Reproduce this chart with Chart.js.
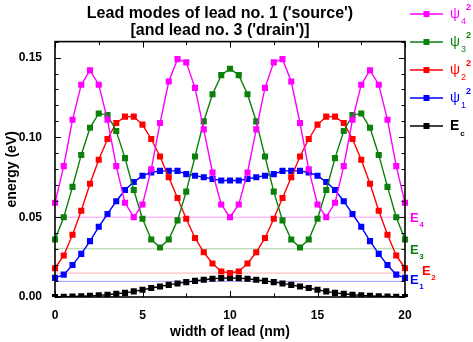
<!DOCTYPE html>
<html>
<head>
<meta charset="utf-8">
<script src="https://cdn.jsdelivr.net/npm/chart.js@4.4.1/dist/chart.umd.min.js"></script>
<style>
  html, body { margin: 0; padding: 0; background: #fff; }
  #wrap { width: 473px; height: 342px; }
</style>
</head>
<body>
<div id="wrap"><canvas id="leadModes"></canvas></div>
<script>
// ==================== DATA ====================
const widthNm = [0, 0.5, 1, 1.5, 2, 2.5, 3, 3.5, 4, 4.5, 5, 5.5, 6, 6.5, 7, 7.5, 8, 8.5, 9, 9.5, 10,
  10.5, 11, 11.5, 12, 12.5, 13, 13.5, 14, 14.5, 15, 15.5, 16, 16.5, 17, 17.5, 18, 18.5, 19, 19.5, 20];

const psi4 = [0.059, 0.082, 0.111, 0.133, 0.142, 0.133, 0.111, 0.082, 0.059, 0.050, 0.058, 0.080, 0.109, 0.135, 0.149, 0.147, 0.131, 0.105, 0.078, 0.058, 0.050,
  0.058, 0.078, 0.105, 0.131, 0.147, 0.149, 0.135, 0.109, 0.080, 0.058, 0.050, 0.059, 0.082, 0.111, 0.133, 0.142, 0.133, 0.111, 0.082, 0.059];
const psi3 = [0.036, 0.050, 0.069, 0.089, 0.106, 0.115, 0.114, 0.104, 0.087, 0.067, 0.049, 0.036, 0.031, 0.036, 0.048, 0.066, 0.088, 0.110, 0.127, 0.139, 0.143,
  0.139, 0.127, 0.110, 0.088, 0.066, 0.048, 0.036, 0.031, 0.036, 0.049, 0.067, 0.087, 0.104, 0.114, 0.115, 0.106, 0.089, 0.069, 0.050, 0.036];
const psi2 = [0.018, 0.026, 0.039, 0.054, 0.071, 0.086, 0.099, 0.109, 0.113, 0.113, 0.108, 0.099, 0.088, 0.075, 0.062, 0.049, 0.037, 0.028, 0.021, 0.016, 0.015,
  0.016, 0.021, 0.028, 0.037, 0.049, 0.062, 0.075, 0.088, 0.099, 0.108, 0.113, 0.113, 0.109, 0.099, 0.086, 0.071, 0.054, 0.039, 0.026, 0.018];
const psi1 = [0.012, 0.014, 0.020, 0.027, 0.035, 0.044, 0.052, 0.060, 0.067, 0.072, 0.076, 0.078, 0.079, 0.079, 0.079, 0.077, 0.076, 0.075, 0.074, 0.073, 0.073,
  0.073, 0.074, 0.075, 0.076, 0.077, 0.079, 0.079, 0.079, 0.078, 0.076, 0.072, 0.067, 0.060, 0.052, 0.044, 0.035, 0.027, 0.020, 0.014, 0.012];
const ec = [0.0000, 0.0002, 0.0003, 0.0005, 0.0007, 0.0010, 0.0014, 0.0020, 0.0026, 0.0035, 0.0045, 0.0056, 0.0066, 0.0076, 0.0085, 0.0093, 0.0101, 0.0108, 0.0114, 0.0118, 0.0120,
  0.0118, 0.0114, 0.0108, 0.0101, 0.0093, 0.0085, 0.0076, 0.0066, 0.0056, 0.0045, 0.0035, 0.0026, 0.0020, 0.0014, 0.0010, 0.0007, 0.0005, 0.0003, 0.0002, 0.0000];

// Mode energies E1..E4 (eV), drawn as thin reference lines
const levelSubs = ['1', '2', '3', '4'];
const levelEnergies = [0.0098, 0.015, 0.0302, 0.050];

// Legend text: main glyph, subscript, superscript
const legendMain = ['ψ', 'ψ', 'ψ', 'ψ', 'E'];
const legendSub = ['4', '3', '2', '1', 'c'];
const legendSup = ['2', '2', '2', '2', ''];

const xTickLabels = [0, 5, 10, 15, 20];
const yTickLabels = [0.00, 0.05, 0.10, 0.15];

// ==================== STYLES ====================
const seriesColors = ['#ff00ff', '#0b800b', '#ff0000', '#0000ff', '#000000'];
const levelColors = ['#0000ff', '#ff0000', '#0b800b', '#ff00ff'];
const levelLineColors = ['#9a9aff', '#ffb0b0', '#a3d0a3', '#ff9cff'];
const levelLabelDx = [5, 17, 5, 5];
const levelLabelDy = [-1, -1.5, 2, 1.5];

const FONT = '"Liberation Sans", Arial, sans-serif';
Chart.defaults.font.family = FONT;
Chart.defaults.color = '#000';

const toPoints = (ys) => ys.map((v, i) => ({ x: widthNm[i], y: v }));
const isOn = (v, list) => list.some(t => Math.abs(t - v) < 1e-6);

const seriesData = [psi4, psi3, psi2, psi1, ec];
const datasets = seriesData.map((ys, i) => ({
  data: toPoints(ys),
  borderColor: seriesColors[i],
  backgroundColor: seriesColors[i],
  borderWidth: 1.4,
  pointStyle: 'rect',
  pointRadius: 4.3,
  pointBorderWidth: 0,
  pointBackgroundColor: seriesColors[i],
  tension: 0,
  clip: { left: 6, top: 6, right: 6, bottom: 0 }
}));

// Energy level lines span the full width of the lead
levelEnergies.forEach((e, i) => {
  datasets.push({
    data: [{ x: widthNm[0], y: e }, { x: widthNm[widthNm.length - 1], y: e }],
    borderColor: levelLineColors[i],
    borderWidth: 1,
    pointRadius: 0
  });
});

// ==================== DECORATION PLUGINS ====================
const framePlugin = {
  id: 'frame',
  afterDraw(chart) {
    const { ctx, chartArea: a, scales: { x, y } } = chart;
    ctx.save();
    ctx.strokeStyle = '#000';
    ctx.lineWidth = 1;
    ctx.beginPath();
    x.ticks.forEach(t => {
      const px = Math.round(x.getPixelForValue(t.value)) + 0.5;
      const len = isOn(t.value, xTickLabels) ? 6 : 3.5;
      ctx.moveTo(px, a.bottom); ctx.lineTo(px, a.bottom - len);
      ctx.moveTo(px, a.top); ctx.lineTo(px, a.top + len);
    });
    y.ticks.forEach(t => {
      const py = Math.round(y.getPixelForValue(t.value)) + 0.5;
      const len = isOn(t.value, yTickLabels) ? 6 : 3.5;
      ctx.moveTo(a.left, py); ctx.lineTo(a.left + len, py);
      ctx.moveTo(a.right, py); ctx.lineTo(a.right - len, py);
    });
    ctx.stroke();
    ctx.lineWidth = 1.6;
    ctx.strokeRect(a.left, a.top, a.right - a.left, a.bottom - a.top);
    ctx.restore();
  }
};

const levelLabelPlugin = {
  id: 'levelLabels',
  afterDraw(chart) {
    const { ctx, chartArea: a, scales: { y } } = chart;
    ctx.save();
    ctx.textBaseline = 'middle';
    ctx.textAlign = 'left';
    levelEnergies.forEach((e, i) => {
      const px = a.right + levelLabelDx[i];
      const py = y.getPixelForValue(e) + levelLabelDy[i];
      ctx.fillStyle = levelColors[i];
      ctx.font = 'bold 13px ' + FONT;
      ctx.fillText('E', px, py);
      const w = ctx.measureText('E').width;
      ctx.font = 'bold 8px ' + FONT;
      ctx.fillText(levelSubs[i], px + w + 0.5, py + 6);
    });
    ctx.restore();
  }
};

const legendPlugin = {
  id: 'sideLegend',
  afterDraw(chart) {
    const { ctx } = chart;
    const top = 14, gap = 28, x0 = 410, x1 = 443, tx = 450;
    ctx.save();
    ctx.textBaseline = 'middle';
    ctx.textAlign = 'left';
    legendMain.forEach((m, i) => {
      const cy = top + gap * i;
      const c = seriesColors[i];
      ctx.strokeStyle = c;
      ctx.fillStyle = c;
      ctx.lineWidth = 1.4;
      ctx.beginPath();
      ctx.moveTo(x0, cy); ctx.lineTo(x1, cy);
      ctx.stroke();
      ctx.fillRect((x0 + x1) / 2 - 3, cy - 3, 6, 6);
      ctx.font = (m === 'E' ? 'bold 14px ' : '14px ') + FONT;
      ctx.fillText(m, tx, cy);
      const w = ctx.measureText(m).width;
      ctx.font = (m === 'E' ? 'bold 8px ' : '9px ') + FONT;
      ctx.fillText(legendSub[i], tx + w + 1, cy + 8);
      if (legendSup[i]) {
        ctx.font = 'bold 9px ' + FONT;
        ctx.fillText(legendSup[i], tx + w + 6, cy - 6);
      }
    });
    ctx.restore();
  }
};

// ==================== CHART ====================
new Chart(document.getElementById('leadModes'), {
  type: 'line',
  data: { datasets },
  options: {
    responsive: true,
    maintainAspectRatio: false,
    animation: false,
    layout: { padding: { left: 0, right: 33, top: 0, bottom: 0 } },
    plugins: {
      legend: { display: false },
      tooltip: { enabled: false },
      title: {
        display: true,
        text: ["Lead modes of lead no. 1 ('source')", "[and lead no. 3 ('drain')]"],
        font: { size: 16, weight: 'bold', lineHeight: 1.05 },
        color: '#000',
        padding: { top: 5, bottom: 3 }
      }
    },
    scales: {
      x: {
        type: 'linear',
        min: 0,
        max: 20,
        grid: { display: false },
        border: { display: false },
        ticks: {
          stepSize: 2.5,
          padding: 3,
          maxRotation: 0,
          font: { size: 12, weight: 'bold' },
          color: '#000',
          callback: v => isOn(v, xTickLabels) ? String(Math.round(v)) : ''
        },
        title: {
          display: true,
          text: 'width of lead (nm)',
          font: { size: 14, weight: 'bold' },
          color: '#000',
          padding: { top: 0, bottom: 1 }
        },
        afterFit: s => { s.height = 45; }
      },
      y: {
        type: 'linear',
        min: 0,
        max: 0.16,
        grid: { display: false },
        border: { display: false },
        ticks: {
          stepSize: 0.01,
          padding: 5,
          autoSkip: false,
          font: { size: 12, weight: 'bold' },
          color: '#000',
          callback: v => isOn(v, yTickLabels) ? v.toFixed(2) : ''
        },
        title: {
          display: true,
          text: 'energy (eV)',
          font: { size: 14, weight: 'bold' },
          color: '#000',
          padding: { top: 4, bottom: 0 }
        },
        afterFit: s => { s.width = 55; }
      },
      yRight: {
        type: 'linear',
        position: 'right',
        min: 0,
        max: 0.16,
        grid: { display: false },
        border: { display: false },
        ticks: { display: false },
        afterFit: s => { s.width = 35; }
      }
    }
  },
  plugins: [framePlugin, levelLabelPlugin, legendPlugin]
});
</script>
</body>
</html>
